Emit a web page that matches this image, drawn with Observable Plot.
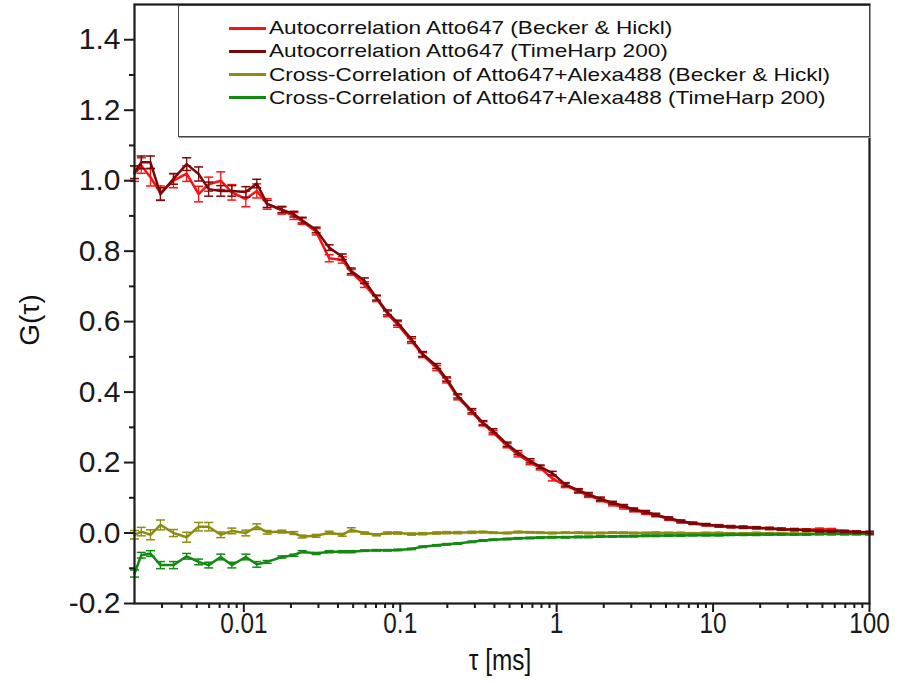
<!DOCTYPE html>
<html><head><meta charset="utf-8">
<script src="https://cdn.jsdelivr.net/npm/d3@7"></script>
<script src="https://cdn.jsdelivr.net/npm/@observablehq/plot@0.6"></script>
<style>
body{margin:0;background:#fff;}
#wrap{position:relative;width:900px;height:683px;font-family:"Liberation Sans",Arial,sans-serif;color:#111;}
#legend{position:absolute;left:178px;top:5px;width:692px;height:132px;border:1px solid #444;box-sizing:border-box;background:#fff;box-shadow:1px 1px 0 #999;}
.item{position:absolute;left:50px;height:22px;display:flex;align-items:center;font-size:19px;white-space:nowrap;}
.item .sw{width:37px;height:3px;margin-right:3px;flex:none;}
.item .tx{display:inline-block;transform:scaleX(1.19);transform-origin:left center;}
#ylab{position:absolute;left:30px;top:320px;transform:translate(-50%,-50%) rotate(-90deg);font-size:28px;white-space:nowrap;}
#xlab{position:absolute;left:500px;top:660px;transform:translate(-50%,-50%) scaleX(0.84);font-size:29px;white-space:nowrap;}
</style></head><body><div id="wrap"></div>
<script>
// lag times (ms)
const tau = [0.00200,0.00221,0.00253,0.00293,0.00355,0.00431,0.00514,0.00596,0.00712,0.00838,
  0.0103,0.0121,0.0141,0.0175,0.0209,0.0236,0.0290,0.0351,0.0426,0.0486,
  0.0590,0.0705,0.0829,0.0961,0.118,0.139,0.171,0.198,0.233,0.287,
  0.338,0.392,0.482,0.566,0.676,0.785,0.937,1.135,1.377,1.596,
  1.905,2.275,2.678,3.105,3.707,4.298,5.207,6.22,7.43,9.0,
  10.9,13.0,15.6,18.9,22.9,27.3,33.1,39.5,47.9,57.2,
  69.3,82.7,100];
// Autocorrelation Atto647 (Becker & Hickl)
const autoBH = [1.020,1.043,1.010,0.965,1.000,1.020,0.962,0.990,1.000,0.967,
  0.948,0.971,0.934,0.915,0.900,0.885,0.855,0.780,0.775,0.740,
  0.705,0.665,0.622,0.592,0.545,0.505,0.468,0.433,0.385,0.343,
  0.310,0.285,0.248,0.222,0.200,0.185,0.155,0.135,0.118,0.106,
  0.094,0.082,0.073,0.065,0.057,0.050,0.040,0.032,0.027,0.023,
  0.021,0.018,0.017,0.015,0.013,0.011,0.009,0.009,0.011,0.010,
  0.005,0.002,0.001];
const errAutoBH = [0.022,0.022,0.025,0.020,0.020,0.022,0.022,0.020,0.025,0.022,
  0.022,0.020,0.015,0.010,0.010,0.009,0.009,0.010,0.009,0.008,
  0.008,0.008,0.008,0.008,0.007,0.007,0.007,0.007,0.007,0.006,
  0.006,0.006,0.006,0.006,0.006,0.006,0.007,0.006,0.005,0.005,
  0.005,0.005,0.005,0.005,0.004,0.004,0.004,0.004,0.003,0.003,
  0.003,0.003,0.003,0.003,0.003,0.003,0.003,0.003,0.003,0.003,
  0.003,0.003,0.003];
// Autocorrelation Atto647 (TimeHarp 200)
const autoTH = [1.024,1.052,1.052,0.962,1.005,1.047,1.019,0.976,0.971,0.971,
  0.968,0.992,0.934,0.918,0.905,0.888,0.860,0.810,0.784,0.744,
  0.716,0.668,0.626,0.597,0.550,0.508,0.474,0.437,0.389,0.347,
  0.313,0.290,0.252,0.228,0.205,0.188,0.170,0.138,0.121,0.110,
  0.097,0.086,0.077,0.067,0.060,0.052,0.042,0.034,0.028,0.024,
  0.020,0.018,0.016,0.015,0.013,0.011,0.010,0.008,0.006,0.005,
  0.004,0.003,0.002];
const errAutoTH = [0.018,0.018,0.018,0.018,0.015,0.018,0.020,0.020,0.015,0.015,
  0.015,0.012,0.010,0.009,0.008,0.008,0.008,0.008,0.008,0.008,
  0.008,0.007,0.007,0.007,0.007,0.007,0.007,0.006,0.006,0.006,
  0.006,0.006,0.006,0.006,0.006,0.005,0.005,0.005,0.005,0.005,
  0.005,0.004,0.004,0.004,0.004,0.004,0.004,0.003,0.003,0.003,
  0.003,0.003,0.003,0.003,0.003,0.003,0.003,0.003,0.003,0.003,
  0.003,0.003,0.003];
// Cross-Correlation of Atto647+Alexa488 (Becker & Hickl)
const crossBH = [-0.005,0.004,-0.005,0.023,0.000,-0.012,0.018,0.018,-0.005,0.006,
  0.000,0.018,0.002,0.004,0.000,-0.010,-0.008,0.001,-0.005,0.009,
  0.000,-0.005,0.000,0.000,-0.003,-0.002,0.000,0.001,0.001,0.002,
  0.003,0.001,0.000,0.003,0.002,0.001,0.000,0.001,0.001,0.000,
  0.000,0.001,0.001,0.000,0.000,0.001,0.000,0.000,-0.001,0.000,
  0.000,-0.001,-0.001,0.000,-0.001,-0.001,-0.002,-0.002,-0.001,-0.002,
  -0.002,-0.002,-0.002];
const errCrossBH = [0.012,0.012,0.014,0.014,0.010,0.014,0.012,0.012,0.008,0.008,
  0.008,0.008,0.005,0.004,0.004,0.004,0.004,0.004,0.004,0.006,
  0.003,0.003,0.003,0.003,0.003,0.003,0.003,0.003,0.003,0.003,
  0.002,0.002,0.002,0.002,0.002,0.002,0.002,0.002,0.002,0.002,
  0.002,0.002,0.002,0.002,0.002,0.002,0.002,0.002,0.002,0.002,
  0.002,0.002,0.002,0.002,0.002,0.002,0.002,0.002,0.002,0.002,
  0.002,0.002,0.002];
// Cross-Correlation of Atto647+Alexa488 (TimeHarp 200)
const crossTH = [-0.115,-0.063,-0.058,-0.091,-0.091,-0.066,-0.082,-0.091,-0.068,-0.091,
  -0.068,-0.089,-0.082,-0.068,-0.063,-0.053,-0.058,-0.053,-0.053,-0.053,
  -0.050,-0.049,-0.049,-0.048,-0.045,-0.039,-0.035,-0.032,-0.030,-0.025,
  -0.021,-0.019,-0.017,-0.015,-0.014,-0.013,-0.012,-0.012,-0.011,-0.011,
  -0.010,-0.010,-0.009,-0.009,-0.008,-0.008,-0.007,-0.007,-0.006,-0.006,
  -0.006,-0.005,-0.005,-0.005,-0.004,-0.004,-0.004,-0.004,-0.003,-0.003,
  -0.003,-0.003,-0.003];
const errCrossTH = [0.010,0.008,0.008,0.010,0.010,0.008,0.008,0.008,0.008,0.008,
  0.008,0.008,0.004,0.003,0.003,0.003,0.003,0.003,0.003,0.003,
  0.002,0.002,0.002,0.002,0.002,0.002,0.002,0.002,0.002,0.002,
  0.002,0.002,0.002,0.002,0.002,0.002,0.002,0.002,0.002,0.002,
  0.002,0.002,0.002,0.002,0.002,0.002,0.002,0.002,0.002,0.002,
  0.002,0.002,0.002,0.002,0.002,0.002,0.002,0.002,0.002,0.002,
  0.002,0.002,0.002];

const seriesNames = ["Autocorrelation Atto647 (Becker & Hickl)","Autocorrelation Atto647 (TimeHarp 200)",
  "Cross-Correlation of Atto647+Alexa488 (Becker & Hickl)","Cross-Correlation of Atto647+Alexa488 (TimeHarp 200)"];
const seriesColors = ["#ff1010","#7a0808","#8c8c10","#128a12"];
const seriesValues = [autoBH, autoTH, crossBH, crossTH];
const seriesErrors = [errAutoBH, errAutoTH, errCrossBH, errCrossTH];

const xTickValues = [0.01,0.1,1,10,100];
const xTickLabels = ["0.01","0.1","1","10","100"];
const xMinorTicks = [0.003,0.004,0.005,0.006,0.007,0.008,0.009,0.02,0.03,0.04,0.05,0.06,0.07,0.08,0.09,
  0.2,0.3,0.4,0.5,0.6,0.7,0.8,0.9,2,3,4,5,6,7,8,9,20,30,40,50,60,70,80,90];
const yTickValues = [-0.2,0.0,0.2,0.4,0.6,0.8,1.0,1.2,1.4];
const yTickLabels = ["-0.2","0.0","0.2","0.4","0.6","0.8","1.0","1.2","1.4"];
const yMinorTicks = [-0.1,0.1,0.3,0.5,0.7,0.9,1.1,1.3];

const rows = seriesValues.map((vals, s) => vals.map((g, i) => ({tau: tau[i], g, err: seriesErrors[s][i], s})));
const cap = {draw(ctx, size){const w = Math.sqrt(size / Math.PI); ctx.moveTo(-w, 0); ctx.lineTo(w, 0);}};

const marks = [];
for (const s of [2, 3, 0, 1]) {
  const data = rows[s], c = seriesColors[s];
  marks.push(
    Plot.ruleX(data, {x: "tau", y1: d => d.g - d.err, y2: d => d.g + d.err, stroke: c, strokeWidth: 1.3}),
    Plot.dot(data, {x: "tau", y: d => d.g + d.err, symbol: cap, r: 4.5, stroke: c, strokeWidth: 1.5, fill: "none"}),
    Plot.dot(data, {x: "tau", y: d => d.g - d.err, symbol: cap, r: 4.5, stroke: c, strokeWidth: 1.5, fill: "none"}),
    Plot.line(data, {x: "tau", y: "g", stroke: c, strokeWidth: 2.5})
  );
}

const chart = Plot.plot({
  width: 900, height: 683,
  marginLeft: 134, marginRight: 31, marginTop: 4, marginBottom: 80,
  x: {type: "log", domain: [0.002, 100]},
  y: {domain: [-0.2, 1.5]},
  style: {background: "white", color: "#1a1a1a", fontFamily: "'Liberation Sans', Arial, sans-serif"},
  marks: [
    ...marks,
    Plot.frame({stroke: "#1a1a1a", strokeWidth: 2.2}),
    Plot.axisX({ticks: xTickValues, tickSize: 9, strokeWidth: 2, tickPadding: 0,
      tickFormat: d => xTickLabels[xTickValues.indexOf(d)], fontSize: 29, label: null}),
    Plot.axisX({ticks: xMinorTicks, tickSize: 5, strokeWidth: 2, tickFormat: () => "", label: null}),
    Plot.axisY({ticks: yTickValues, tickSize: 10, strokeWidth: 2, tickPadding: 4,
      tickFormat: d => yTickLabels[yTickValues.indexOf(d)], fontSize: 30, label: null}),
    Plot.axisY({ticks: yMinorTicks, tickSize: 5, strokeWidth: 2, tickFormat: () => "", label: null})
  ]
});

const wrap = document.getElementById("wrap");
wrap.appendChild(chart);

// condense the x tick labels like the reference's narrow face
d3.select(chart).selectAll('g[aria-label="x-axis tick label"] text').each(function () {
  const len = this.getComputedTextLength();
  if (len > 0) { this.setAttribute("textLength", (len * 0.84).toFixed(1)); this.setAttribute("lengthAdjust", "spacingAndGlyphs"); }
});

const legend = document.createElement("div");
legend.id = "legend";
seriesNames.forEach((name, i) => {
  const it = document.createElement("div");
  it.className = "item";
  it.style.top = (11 + i * 23.3) + "px";
  const sw = document.createElement("span");
  sw.className = "sw"; sw.style.background = seriesColors[i];
  const tx = document.createElement("span");
  tx.className = "tx";
  tx.textContent = name;
  it.appendChild(sw); it.appendChild(tx);
  legend.appendChild(it);
});
wrap.appendChild(legend);

const ylab = document.createElement("div"); ylab.id = "ylab"; ylab.textContent = "G(τ)"; wrap.appendChild(ylab);
const xlab = document.createElement("div"); xlab.id = "xlab"; xlab.textContent = "τ [ms]"; wrap.appendChild(xlab);
</script>
</body></html>
